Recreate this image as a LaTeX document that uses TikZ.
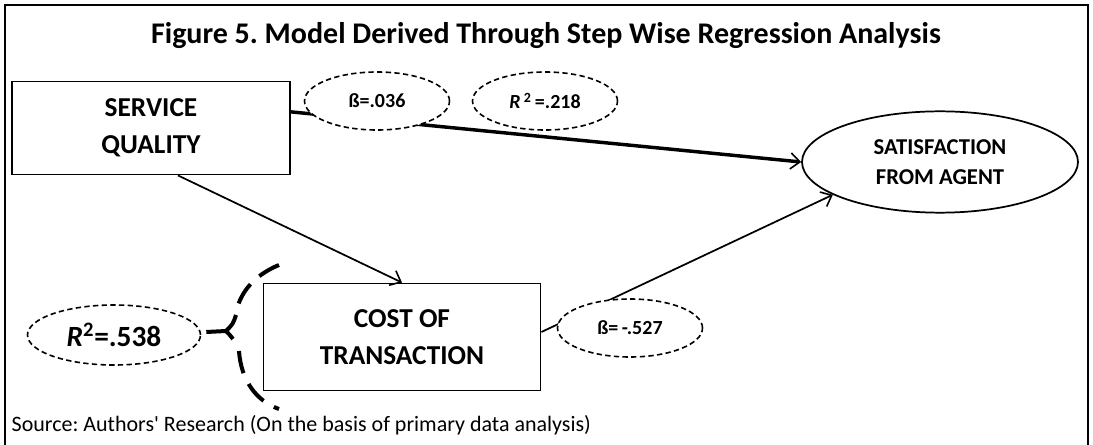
\documentclass[tikz,border=0pt]{standalone}
\usepackage{fontspec}
\setmainfont{Carlito}
\usetikzlibrary{arrows.meta,shapes.geometric,calc}
\frenchspacing
\begin{document}
\begin{tikzpicture}[x=0.75pt,y=-0.75pt,
  box/.style={draw, line width=1.4pt, fill=white, align=center, font=\fontsize{20.5}{24}\selectfont\bfseries, inner sep=0pt},
  coef/.style={draw, ellipse, dashed, dash pattern=on 4pt off 2.5pt, line width=1.2pt, fill=white, inner sep=0pt, minimum width=108.75pt, minimum height=43.5pt, font=\fontsize{15}{18}\selectfont\bfseries},
  arr/.style={-{Straight Barb[length=7pt,width=12pt,line width=1.2pt]}},
  bracket/.style={line width=3pt, dash pattern=on 17pt off 9pt}]
\useasboundingbox (0,0) rectangle (1093,445);
\draw[line width=1.2pt] (5,450) -- (5,5) -- (1088,5) -- (1088,450);
\node (title) at (546,36) {\fontsize{22.5}{26}\selectfont\bfseries Figure 5. Model Derived Through Step Wise Regression Analysis};
\node[box, minimum width=208.5pt, minimum height=69.75pt] (sq) at (151,128) {SERVICE\\[4pt]QUALITY};
\node[box, minimum width=207.75pt, minimum height=80.25pt] (cost) at (402,337) {COST OF\\[4pt]TRANSACTION};
\node[draw, ellipse, line width=1.3pt, inner sep=0pt, minimum width=207pt, minimum height=76pt, align=center, font=\fontsize{17}{20}\selectfont\bfseries] (sat) at (940,162) {SATISFACTION\\[3pt]FROM AGENT};
% connectors
\draw[arr, line width=2.6pt] ($(sq.north east)!0.33!(sq.south east)$) -- (sat.west);
\draw[arr, line width=1.3pt] ($(sq.south)+(27,0)$) -- (cost.north);
\draw[arr, line width=1.3pt] ($(cost.east)+(0,-5)$) -- (sat.197);
% coefficient ellipses
\node[coef] (b1) at (377,101) {ß=.036};
\node[coef] (r1) at (545,101) {\textit{R}\,\textsuperscript{2}\,=.218};
\node[coef] (b2) at (630,328) {ß=\,-.527};
\node[coef, minimum width=129.75pt, minimum height=45pt, font=\fontsize{22}{26}\selectfont\bfseries] (r2) at (114,335) {\textit{R}\textsuperscript{2}=.538};
% bracket arc
\coordinate (atop) at (279,265);
\coordinate (aup) at (236,315);
\coordinate (kink) at (226,331);
\coordinate (alow) at (233,339);
\coordinate (ldash) at (239,351);
\coordinate (abot) at (279,409);
\draw[bracket] (atop) .. controls (252,276) and (238,296) .. (aup);
\draw[bracket] (ldash) .. controls (241,380) and (256,401) .. (abot);
\draw[line width=3pt] ($(r2.east)+(5,-3)$) -- (kink);
\draw[line width=3pt, line join=round] (aup) .. controls (233,324) .. (kink) .. controls (229,334) .. (alow);
\node[anchor=west, font=\fontsize{16.5}{19}\selectfont] (src) at (7,425) {Source: Authors\textquotesingle\ Research (On the basis of primary data analysis)};
\end{tikzpicture}
\end{document}
